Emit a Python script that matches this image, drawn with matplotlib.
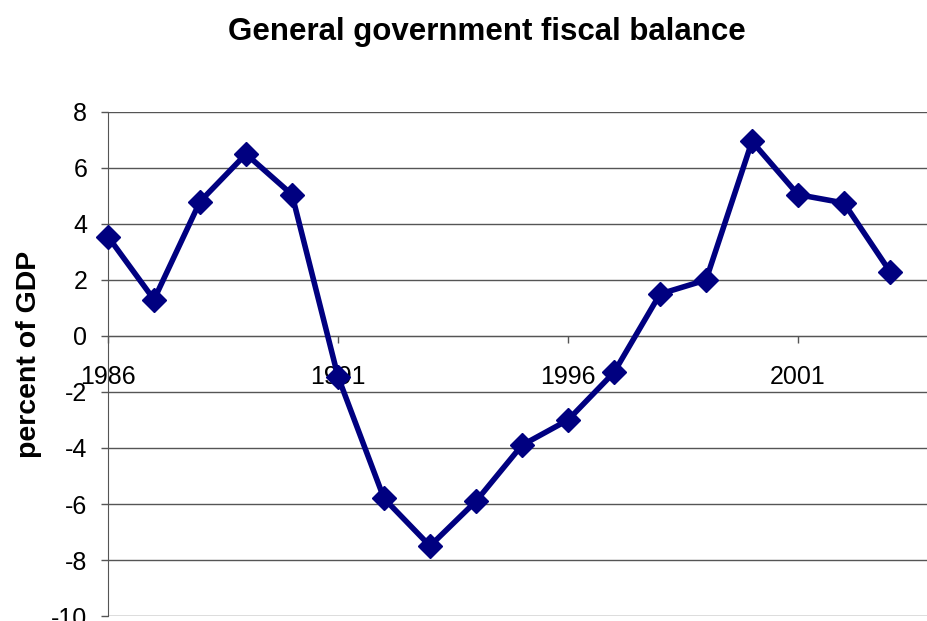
import matplotlib
matplotlib.use("Agg")
import matplotlib.pyplot as plt

years = [1986, 1987, 1988, 1989, 1990, 1991, 1992, 1993, 1994,
         1995, 1996, 1997, 1998, 1999, 2000, 2001, 2002, 2003]
balance = [3.55, 1.3, 4.8, 6.5, 5.05, -1.45, -5.8, -7.5, -5.9,
           -3.9, -3.0, -1.3, 1.5, 2.0, 6.95, 5.05, 4.75, 2.3]
x_ticks = [1986, 1991, 1996, 2001]
y_ticks = [-10, -8, -6, -4, -2, 0, 2, 4, 6, 8]

plt.rcParams['font.family'] = ['Liberation Sans', 'DejaVu Sans']
plt.rcParams['axes.unicode_minus'] = False

fig = plt.figure(figsize=(9.27, 6.21), dpi=100)
ax = fig.add_axes([108 / 927, 5 / 621, 1 - 108 / 927, 504 / 621])

ax.plot(years, balance, color='#000080', linewidth=4, marker='D',
        markersize=12.5, markerfacecolor='#000080', markeredgecolor='#000080',
        zorder=3, clip_on=False)

ax.set_xlim(1986, 1986 + (927 - 108) / 46)
ax.set_ylim(-10, 8)
ax.set_xticks(x_ticks)
ax.set_xticklabels([str(v) for v in x_ticks])
ax.set_yticks(y_ticks)

ax.set_axisbelow(True)
ax.yaxis.grid(True, color='#555555', linewidth=1)
for s in ['top', 'right']:
    ax.spines[s].set_visible(False)
ax.spines['bottom'].set_position(('data', 0))
ax.spines['bottom'].set_color('#555555')
ax.spines['left'].set_color('#555555')
ax.tick_params(axis='x', direction='out', length=5, width=1, color='#555555',
               labelsize=18, pad=16)
ax.tick_params(axis='y', direction='out', length=5, width=1, color='#555555',
               labelsize=18, pad=10)

fig.text(487 / 927, 1 - 32 / 621, 'General government fiscal balance',
         ha='center', va='center', fontsize=22.5, fontweight='bold')
fig.text(29 / 927, 1 - 354 / 621, 'percent of GDP', rotation=90,
         ha='center', va='center', fontsize=20.5, fontweight='bold')

fig.savefig('out.png', dpi=100)
